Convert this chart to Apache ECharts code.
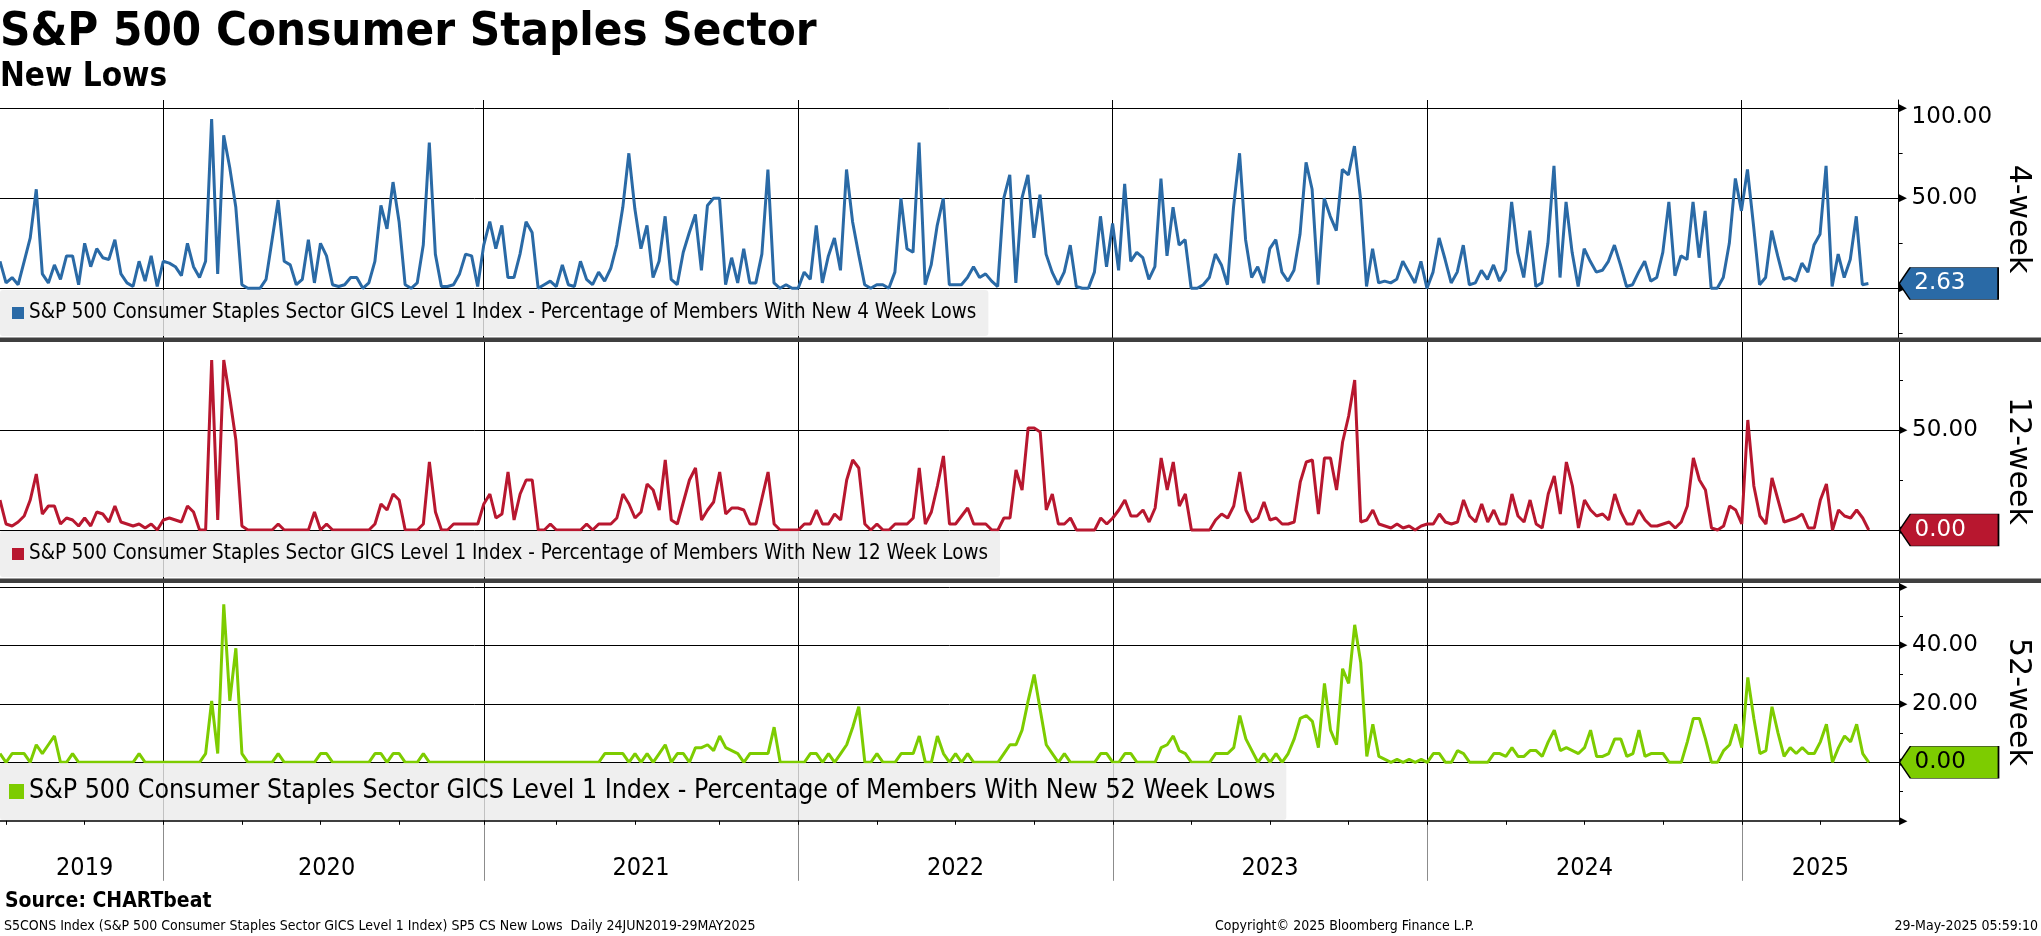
<!DOCTYPE html>
<html><head><meta charset="utf-8">
<script src="https://cdn.jsdelivr.net/npm/echarts@6/dist/echarts.min.js"></script>
<style>html,body{margin:0;padding:0;background:#fff}#c{width:2041px;height:936px}</style>
</head><body><div id="c"></div>
<script>
// ---------- DATA (weekly readings, week of 24-Jun-2019 .. week of 26-May-2025) ----------
const seriesName4 = 'S&P 500 Consumer Staples Sector GICS Level 1 Index - Percentage of Members With New 4 Week Lows';
const seriesName12 = 'S&P 500 Consumer Staples Sector GICS Level 1 Index - Percentage of Members With New 12 Week Lows';
const seriesName52 = 'S&P 500 Consumer Staples Sector GICS Level 1 Index - Percentage of Members With New 52 Week Lows';

const newLows4w = [15,3,6,2,15,28,55,8,3,13,
5,18,18,2,25,12,22,17,16,27,
8,3,1,15,4,18,1,15,14,12,
7,25,12,6,15,94,8,85,67,45,
2,0,0,0,5,27,49,15,13,2,
5,27,3,25,18,2,1,2,6,6,
0,3,15,46,33,59,37,2,0,3,
24,81,19,1,1,2,8,19,18,1,
24,37,22,35,6,6,19,37,31,0,
2,4,1,13,2,1,15,5,2,9,
4,11,24,45,75,44,22,35,6,15,
40,5,2,20,31,41,10,46,50,50,
2,17,3,22,3,3,19,66,3,0,
2,0,0,9,5,35,3,18,28,10,
66,37,19,2,0,2,2,0,9,50,
22,20,81,2,13,35,50,2,2,2,
6,12,6,8,4,1,50,63,3,50,
63,28,52,19,9,2,9,24,1,0,
0,9,40,12,36,10,58,15,20,17,
5,12,61,18,45,24,27,0,0,2,
6,19,13,2,45,75,27,6,12,3,
22,27,9,4,10,30,70,55,2,50,
40,32,66,63,79,50,1,22,3,4,
3,5,15,9,3,15,0,9,28,16,
3,9,24,2,3,10,5,13,4,10,
48,20,6,32,1,3,25,68,6,48,
20,1,22,15,9,10,15,24,13,1,
2,9,15,4,6,20,48,7,18,16,
48,17,43,0,0,6,25,61,43,66,
35,2,6,32,18,5,6,4,14,9,
24,30,68,1,19,6,16,40,2,2.63];

const newLows12w = [15,3,2,4,7,15,28,8,12,12,
3,6,5,2,6,2,9,8,4,12,
4,3,2,3,1,3,0,5,6,5,
4,12,9,0,0,85,5,85,66,45,
2,0,0,0,0,0,3,0,0,0,
0,0,9,0,3,0,0,0,0,0,
0,0,3,13,10,18,15,0,0,0,
3,34,9,0,0,3,3,3,3,3,
13,18,6,8,29,5,18,25,25,0,
0,3,0,0,0,0,0,3,0,3,
3,3,6,18,13,6,9,23,20,10,
35,5,3,14,25,31,5,10,14,29,
8,11,11,10,3,3,16,29,3,0,
0,0,0,3,3,10,3,3,8,5,
25,35,31,3,0,3,0,0,3,3,
3,6,31,3,9,22,37,3,3,7,
11,3,3,3,0,0,6,6,30,20,
51,51,49,10,18,3,3,6,0,0,
0,0,6,3,6,10,15,7,7,10,
4,11,36,20,34,12,18,0,0,0,
0,5,8,6,12,29,10,4,6,14,
5,6,3,3,4,24,34,35,8,36,
36,20,44,57,75,4,5,10,3,2,
1,3,1,2,0,2,3,3,8,4,
3,4,15,7,4,13,4,10,3,3,
18,7,4,15,3,1,18,27,8,34,
22,1,15,10,7,8,5,18,9,3,
3,10,5,2,2,3,4,1,4,12,
36,25,20,1,0,2,12,10,3,55,
22,7,3,26,15,4,5,6,8,1,
1,15,23,0,10,7,6,10,6,0];

const newLows52w = [3,0,3,3,3,0,6,3,6,9,
0,0,3,0,0,0,0,0,0,0,
0,0,0,3,0,0,0,0,0,0,
0,0,0,0,3,21,3,54,21,39,
3,0,0,0,0,0,3,0,0,0,
0,0,0,3,3,0,0,0,0,0,
0,0,3,3,0,3,3,0,0,0,
3,0,0,0,0,0,0,0,0,0,
0,0,0,0,0,0,0,0,0,0,
0,0,0,0,0,0,0,0,0,0,
3,3,3,3,0,3,0,3,0,3,
6,0,3,3,0,5,5,6,4,9,
5,4,3,0,3,3,3,3,12,0,
0,0,0,0,3,3,0,3,0,3,
6,12,19,0,0,3,0,0,0,3,
3,3,9,0,0,9,3,0,3,0,
3,0,0,0,0,0,3,6,6,11,
21,30,18,6,3,0,3,0,0,0,
0,0,3,3,0,0,3,3,0,0,
0,0,5,6,9,4,3,0,0,0,
0,3,3,3,5,16,8,4,0,3,
0,3,0,3,8,15,16,14,5,27,
11,6,32,27,47,34,2,13,2,1,
0,1,0,1,0,1,0,3,3,0,
0,4,3,0,0,0,0,3,3,2,
5,2,2,4,4,2,7,11,4,5,
4,3,5,11,2,2,3,8,8,2,
3,11,2,3,3,3,0,0,0,7,
15,15,8,0,0,4,6,13,5,29,
15,3,4,19,10,2,5,3,5,3,
3,7,13,0,5,9,7,13,3,0];

// tick values per panel
const ticks4 = { major: [0, 50, 100], labeled: [50, 100], minor: [-25, 25, 75], top: 100 };
const ticks12 = { major: [0, 50], labeled: [50], minor: [-25, 25, 75], top: null };
const ticks52 = { major: [-20, 0, 20, 40, 60], labeled: [20, 40], minor: [-10, 10, 30, 50], top: null };
const grid4 = [0, 50, 100], grid12 = [0, 50], grid52 = [0, 20, 40, 60];

// weekly category axis: 24-Jun-2019 .. 30-Jun-2025
const dates = [];
for (let i = 0; i < 315; i++) {
  dates.push(new Date(Date.UTC(2019, 5, 24) + i * 7 * 86400000).toISOString().slice(0, 10));
}
const t = s => Date.parse(s + 'T00:00:00Z');
function nearestIdx(target) {
  let best = 0;
  dates.forEach((d, i) => { if (Math.abs(t(d) - target) < Math.abs(t(dates[best]) - target)) best = i; });
  return best;
}
const yearStarts = [], quarterStarts = [];
for (let y = 2020; y <= 2025; y++) yearStarts.push(nearestIdx(Date.UTC(y, 0, 1)));
for (let y = 2019; y <= 2025; y++) for (let m = 0; m < 12; m += 3) {
  const q = Date.UTC(y, m, 1);
  if (q >= t(dates[0]) && q <= t(dates[dates.length - 1])) quarterStarts.push(nearestIdx(q));
}
const bounds = [0].concat(yearStarts, [dates.length - 1]);
const labelIdx = {};
for (let k = 0; k < bounds.length - 1; k++) labelIdx[Math.round((bounds[k] + bounds[k + 1]) / 2)] = String(2019 + k);
const isYearStart = (i) => yearStarts.indexOf(i) >= 0;
const isQuarterStart = (i) => quarterStarts.indexOf(i) >= 0;

// ---------- CHART ----------
const COND = "'DejaVu Sans Condensed','DejaVu Sans',sans-serif";
const SANS = "'DejaVu Sans',sans-serif";
const BLUE = '#2a6aa6', RED = '#b8172f', GREEN = '#7dcc00';

function xAx(k, bottom) {
  return {
    type: 'category', gridIndex: k, data: dates, boundaryGap: false,
    axisLine: { show: bottom, onZero: false, lineStyle: { color: '#000', width: 1.5 } },
    axisTick: { show: bottom, interval: (i) => isYearStart(i), length: 60, lineStyle: { color: '#8c8c8c', width: 1 } },
    axisLabel: { show: bottom, interval: (i) => labelIdx[i] !== undefined, formatter: (v) => v.slice(0, 4),
      fontSize: 25, fontFamily: COND, color: '#000', margin: 35 },
    splitLine: { show: true, interval: (i) => isYearStart(i), lineStyle: { color: '#000', width: 1 } }
  };
}
const quarterAxis = {
  type: 'category', gridIndex: 2, data: dates, boundaryGap: false, position: 'bottom', offset: 0,
  axisLine: { show: false, onZero: false },
  axisTick: { show: true, interval: (i) => isQuarterStart(i), length: 4, lineStyle: { color: '#000', width: 1 } },
  axisLabel: { show: false }, splitLine: { show: false }
};
function yAx(k, min, max, tk, name) {
  return {
    type: 'value', gridIndex: k, position: 'right', min: min, max: max,
    axisLine: { show: true, lineStyle: { color: '#000', width: 1 } },
    axisTick: { show: true, customValues: tk.minor, length: 4, lineStyle: { color: '#000', width: 1 } },
    axisLabel: { show: true, customValues: tk.major, margin: 0,
      formatter: (v) => {
        if (tk.labeled.indexOf(v) < 0) return '{t|\u25B6}';
        return '{t|\u25B6}{' + (v === tk.top ? 'vt' : 'v') + '|' + v.toFixed(2) + '}';
      },
      rich: { t: { fontSize: 11, width: 13, color: '#000', fontFamily: SANS, verticalAlign: 'middle' },
              v: { fontSize: 23, color: '#000', fontFamily: SANS, verticalAlign: 'middle' },
              vt: { fontSize: 23, lineHeight: 23, padding: [17, 0, 0, 0], color: '#000', fontFamily: SANS, verticalAlign: 'middle' } } },
    splitLine: { show: false },
    name: name, nameLocation: 'middle', nameRotate: -90, nameGap: 104,
    nameTextStyle: { fontSize: 30, color: '#000', fontFamily: SANS }
  };
}
function ser(k, name, data, color, txtColor, gridVals) {
  const last = data[data.length - 1];
  return {
    type: 'line', name: name, xAxisIndex: k, yAxisIndex: k, data: data,
    showSymbol: false, symbol: 'none', lineStyle: { color: color, width: 3 }, itemStyle: { color: color },
    z: 3,
    markLine: { silent: true, z: 1, symbol: 'none', label: { show: false },
      lineStyle: { color: '#000', width: 1, type: 'solid' },
      data: gridVals.map(v => ({ yAxis: v })) },
    markPoint: {
      silent: true, z: 6,
      symbol: 'path://M0 16 L11 0 L100 0 L100 32 L11 32 Z', symbolSize: [99, 32], symbolKeepAspect: false,
      symbolOffset: [50, 0],
      itemStyle: { color: color, borderColor: '#000', borderWidth: 1 },
      label: { show: true, position: [16, 16], align: 'left', verticalAlign: 'middle', color: txtColor,
        fontSize: 23, fontFamily: SANS, formatter: (p) => Number(p.value).toFixed(2) },
      data: [{ coord: [dates[dates.length - 1], last], value: last }]
    }
  };
}
function leg(name, top, fs, icon, pad) {
  return {
    data: [name], left: 0, top: top, orient: 'horizontal', selectedMode: false,
    backgroundColor: 'rgba(236,236,236,0.82)', borderRadius: 3,
    padding: pad, itemWidth: icon, itemHeight: icon, itemGap: 6, icon: 'rect',
    textStyle: { fontSize: fs, fontFamily: COND, color: '#000', padding: [0, 0, 0, 0] }
  };
}

const chart = echarts.init(document.getElementById('c'), null, { renderer: 'canvas' });
chart.setOption({
  animation: false,
  backgroundColor: '#fff',
  title: [
    { text: 'S&P 500 Consumer Staples Sector', left: 0, top: 9, padding: 0,
      textStyle: { fontSize: 47, fontWeight: 'bold', fontFamily: COND, color: '#000' } },
    { text: 'New Lows', left: 0, top: 61, padding: 0,
      textStyle: { fontSize: 33, fontWeight: 'bold', fontFamily: COND, color: '#000' } },
    { text: 'Source: CHARTbeat', left: 5, top: 891, padding: 0,
      textStyle: { fontSize: 21, fontWeight: 'bold', fontFamily: COND, color: '#000' } },
    { text: 'S5CONS Index (S&P 500 Consumer Staples Sector GICS Level 1 Index) SP5 CS New Lows  Daily 24JUN2019-29MAY2025',
      left: 4, top: 919, padding: 0, textStyle: { fontSize: 14, fontWeight: 'normal', fontFamily: COND, color: '#000' } },
    { text: 'Copyright\u00A9 2025 Bloomberg Finance L.P.', left: 1215, top: 919, padding: 0,
      textStyle: { fontSize: 14, fontWeight: 'normal', fontFamily: COND, color: '#000' } },
    { text: '29-May-2025 05:59:10', right: 3, top: 919, padding: 0,
      textStyle: { fontSize: 14, fontWeight: 'normal', fontFamily: COND, color: '#000' } }
  ],
  legend: [
    leg(seriesName4, 290, 20.4, 12, [13, 12, 13, 12]),
    leg(seriesName12, 531, 20.4, 12, [13, 12, 13, 12]),
    leg(seriesName52, 763, 26.5, 15, [15, 11, 15, 9])
  ],
  grid: [
    { left: 0, right: 139, top: 100, height: 238 },
    { left: 0, right: 139, top: 342, height: 238 },
    { left: 0, right: 139, top: 583, height: 237.8 }
  ],
  xAxis: [xAx(0, false), xAx(1, false), xAx(2, true), quarterAxis],
  yAxis: [
    yAx(0, -27.6, 104.6, ticks4, '4-week'),
    yAx(1, -25, 94, ticks12, '12-week'),
    yAx(2, -20, 61.3, ticks52, '52-week')
  ],
  series: [
    ser(0, seriesName4, newLows4w, BLUE, '#fff', grid4),
    ser(1, seriesName12, newLows12w, RED, '#fff', grid12),
    ser(2, seriesName52, newLows52w, GREEN, '#000', grid52)
  ],
  graphic: [
    { type: 'rect', z: 20, shape: { x: 0, y: 337.5, width: 2041, height: 4.5 }, style: { fill: '#3f3f3f' } },
    { type: 'rect', z: 20, shape: { x: 0, y: 578.5, width: 2041, height: 4.5 }, style: { fill: '#3f3f3f' } }
  ]
});
</script>
</body></html>
